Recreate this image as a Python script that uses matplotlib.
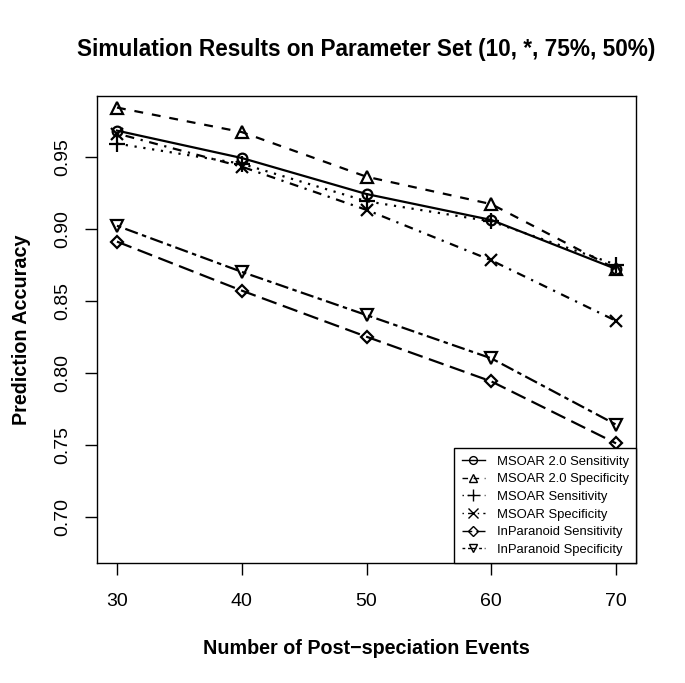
import matplotlib
matplotlib.use("Agg")
import matplotlib.pyplot as plt

plt.rcParams['font.family'] = ['Liberation Sans', 'DejaVu Sans']

events = [30, 40, 50, 60, 70]
msoar2_sens = [0.968, 0.949, 0.924, 0.906, 0.872]
msoar2_spec = [0.984, 0.967, 0.936, 0.917, 0.872]
msoar_sens = [0.959, 0.945, 0.919, 0.905, 0.875]
msoar_spec = [0.966, 0.943, 0.913, 0.878, 0.836]
inpar_sens = [0.891, 0.857, 0.825, 0.794, 0.751]
inpar_spec = [0.902, 0.870, 0.840, 0.810, 0.764]

labels = ["MSOAR 2.0 Sensitivity", "MSOAR 2.0 Specificity", "MSOAR Sensitivity",
          "MSOAR Specificity", "InParanoid Sensitivity", "InParanoid Specificity"]
series = [msoar2_sens, msoar2_spec, msoar_sens, msoar_spec, inpar_sens, inpar_spec]
markers = ['o', '^', '+', 'x', 'D', 'v']
msizes = [7, 8, 11, 9, 6, 8]
lw = 1.6
styles = ['-', (0, (4, 4)), (0, (1, 3)), (0, (1, 3, 4, 3)), (0, (7, 3)), (0, (2, 2, 6, 2))]

fig = plt.figure(figsize=(6.85, 6.83), dpi=100)
ax = fig.add_axes([0.1416, 0.1757, 0.7869, 0.6837])

for y, m, ms, ls, lab in zip(series, markers, msizes, styles, labels):
    ax.plot(events, y, color='black', linestyle=ls, linewidth=lw, marker=m,
            markersize=ms, markerfacecolor='none', markeredgecolor='black',
            markeredgewidth=lw, label=lab)

ax.set_xlim(28.4, 71.6)
ax.set_ylim(0.668, 0.992)
ax.set_xticks([30, 40, 50, 60, 70])
ax.set_yticks([0.70, 0.75, 0.80, 0.85, 0.90, 0.95])
ax.set_yticklabels(["0.70", "0.75", "0.80", "0.85", "0.90", "0.95"], rotation=90, va='center')
ax.tick_params(direction='out', length=8.5, width=1, labelsize=14)
ax.tick_params(axis='x', pad=13)
ax.tick_params(axis='y', pad=10)
for s in ax.spines.values():
    s.set_linewidth(1)

ax.set_xlabel("Number of Post\u2212speciation Events", fontsize=14.2, fontweight='bold', labelpad=21)
ax.set_ylabel("Prediction Accuracy", fontsize=14.2, fontweight='bold', labelpad=17)
fig.text(0.535, 0.928, "Simulation Results on Parameter Set (10, *, 75%, 50%)",
         ha='center', va='center', fontsize=16.3, fontweight='bold')

leg = ax.legend(loc='lower right', borderaxespad=0, fancybox=False, fontsize=9.4,
                handlelength=1.8, numpoints=1, markerscale=0.8, labelspacing=0.42,
                borderpad=0.55, handletextpad=0.9, framealpha=1)
leg.get_frame().set_edgecolor('black')
leg.get_frame().set_linewidth(1)
for h in leg.get_lines():
    h.set_linewidth(1)
    h.set_markeredgewidth(1)

fig.savefig("out.png", dpi=100)
